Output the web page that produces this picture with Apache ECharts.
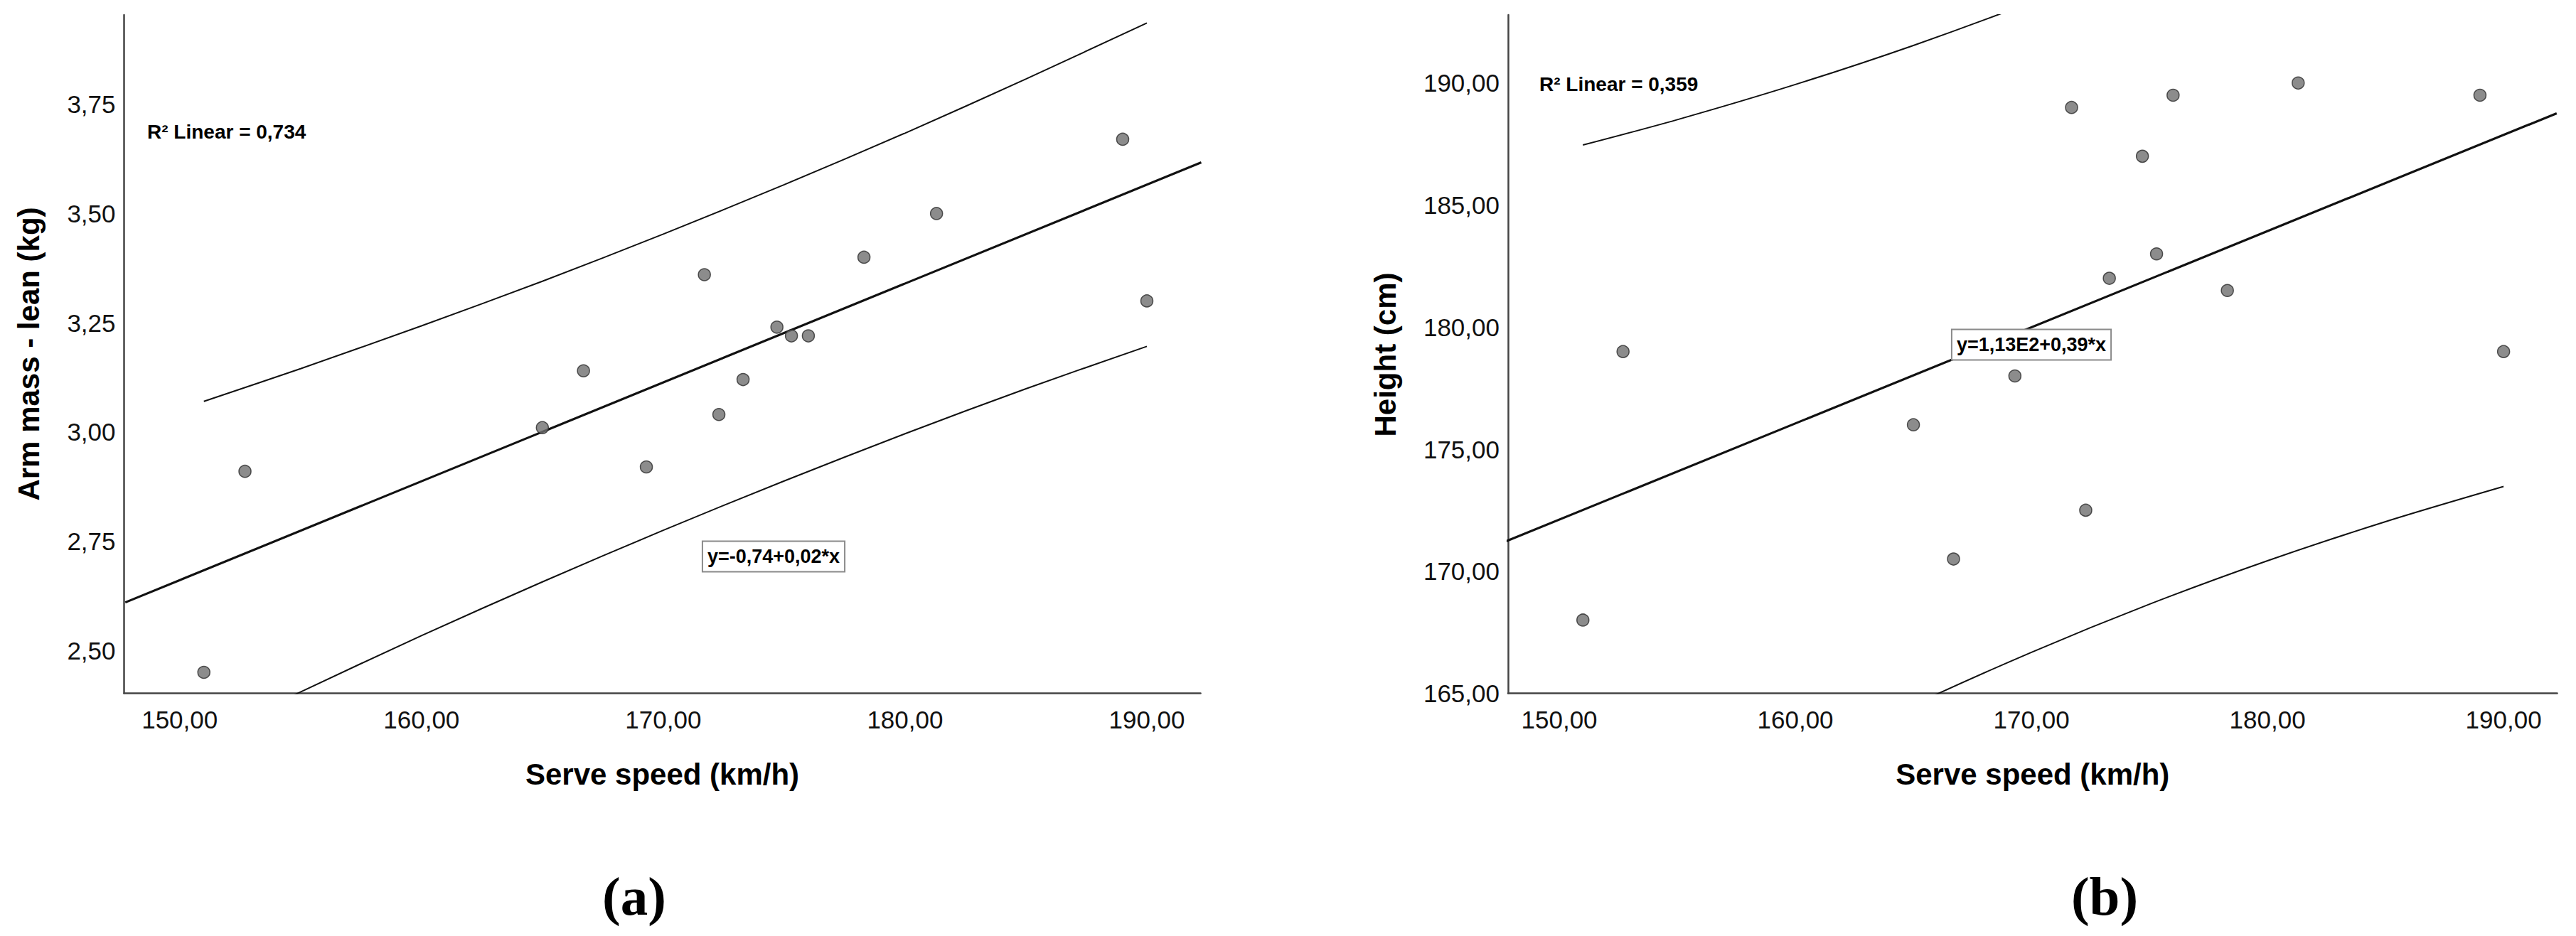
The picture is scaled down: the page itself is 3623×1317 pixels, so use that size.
<!DOCTYPE html>
<html>
<head>
<meta charset="utf-8">
<script src="https://cdn.jsdelivr.net/npm/echarts@6/dist/echarts.min.js"></script>
<style>
html,body{margin:0;padding:0;background:#fff;}
#chart{width:3623px;height:1317px;}
</style>
</head>
<body>
<div id="chart"></div>
<script>
// ---- data ----
const serveSpeed = [151.0, 152.7, 165.0, 166.7, 169.3, 171.7, 172.3, 173.3, 174.7, 175.3, 176.0, 178.3, 181.3, 189.0, 190.0];
const armMassLean = [2.45, 2.91, 3.01, 3.14, 2.92, 3.36, 3.04, 3.12, 3.24, 3.22, 3.22, 3.40, 3.50, 3.67, 3.30];
const heightCm = [168.0, 179.0, 176.0, 170.5, 178.0, 189.0, 172.5, 182.0, 187.0, 183.0, 189.5, 181.5, 190.0, 189.5, 179.0];

// fit lines (read at the axis ends)
const fitX = [147.75, 192.25];
const armFit = [2.61, 3.617];
const heightFit = [171.23, 188.76];

// prediction-interval curves
const intervalX = [151, 155, 160, 165, 170, 175, 180, 185, 190];
const armUpper = [3.070, 3.145, 3.243, 3.345, 3.453, 3.566, 3.684, 3.808, 3.936];
const armLower = [2.300, 2.405, 2.534, 2.657, 2.775, 2.888, 2.996, 3.099, 3.196];
const heightUpper = [187.46, 188.50, 189.94, 191.54, 193.32, 195.29, 197.45, 199.79, 202.29];
const heightLower = [157.56, 159.68, 162.18, 164.52, 166.68, 168.65, 170.43, 172.03, 173.47];

// tick labels
const xTicks = [150, 160, 170, 180, 190];
const armTicks = [2.50, 2.75, 3.00, 3.25, 3.50, 3.75];
const heightTicks = [165, 170, 175, 180, 185, 190];

const texts = {
  xTitle: 'Serve speed (km/h)',
  yTitleA: 'Arm mass - lean (kg)',
  yTitleB: 'Height (cm)',
  r2A: 'R² Linear = 0,734',
  r2B: 'R² Linear = 0,359',
  eqA: 'y=-0,74+0,02*x',
  eqB: 'y=1,13E2+0,39*x',
  labA: '(a)',
  labB: '(b)'
};

const FF = 'Liberation Sans, Arial, sans-serif';
const fmt = v => Number(v).toFixed(2).replace('.', ',');
const zip = (xs, ys) => xs.map((x, i) => [x, ys[i]]);

const axisLineStyle = {show: true, lineStyle: {color: '#444', width: 2.5}};

function xAxisCfg(gridIndex, min, max) {
  return {
    type: 'value', gridIndex, min, max,
    axisLine: axisLineStyle,
    axisTick: {show: false},
    splitLine: {show: false},
    axisLabel: {customValues: xTicks, formatter: fmt, fontFamily: FF, fontSize: 35, color: '#111', margin: 19, lineHeight: 35},
    name: texts.xTitle,
    nameLocation: 'middle',
    nameGap: 93,
    nameTextStyle: {fontFamily: FF, fontSize: 42, fontWeight: 'bold', color: '#000', lineHeight: 42}
  };
}
function yAxisCfg(gridIndex, min, max, ticks) {
  return {
    type: 'value', gridIndex, min, max,
    axisLine: axisLineStyle,
    axisTick: {show: false},
    splitLine: {show: false},
    axisLabel: {customValues: ticks, formatter: fmt, fontFamily: FF, fontSize: 35, color: '#111', margin: 12, padding: [13, 0, 0, 0]}
  };
}

const pointStyle = {color: '#6f6f6f', borderColor: '#2b2b2b', borderWidth: 1.5};
function scatter(xi, yi, ys) {
  return {type: 'scatter', xAxisIndex: xi, yAxisIndex: yi, data: zip(serveSpeed, ys),
    symbol: 'circle', symbolSize: 17, itemStyle: pointStyle, z: 5};
}
function line(xi, yi, xs, ys, width, smooth) {
  return {type: 'line', xAxisIndex: xi, yAxisIndex: yi, data: zip(xs, ys),
    showSymbol: false, smooth: smooth, clip: true,
    lineStyle: {color: '#111', width: width}, z: 3};
}

const chart = echarts.init(document.getElementById('chart'), null, {renderer: 'svg'});
chart.setOption({
  animation: false,
  backgroundColor: '#fff',
  grid: [
    {left: 174.5, top: 21, width: 1514, height: 954.5},
    {left: 2121, top: 21, width: 1475.5, height: 954.5}
  ],
  xAxis: [xAxisCfg(0, 147.7, 192.22), xAxisCfg(1, 147.83, 192.27)],
  yAxis: [yAxisCfg(0, 2.402, 3.9545, armTicks), yAxisCfg(1, 165, 192.79, heightTicks)],
  series: [
    line(0, 0, fitX, armFit, 3.2, false),
    line(0, 0, intervalX, armUpper, 2, 0.3),
    line(0, 0, intervalX, armLower, 2, 0.3),
    scatter(0, 0, armMassLean),
    line(1, 1, fitX, heightFit, 3.2, false),
    line(1, 1, intervalX, heightUpper, 2, 0.3),
    line(1, 1, intervalX, heightLower, 2, 0.3),
    scatter(1, 1, heightCm)
  ],
  graphic: [
    {type: 'text', x: 40, y: 498, rotation: Math.PI / 2,
      style: {text: texts.yTitleA, fontFamily: FF, fontSize: 42, fontWeight: 'bold', fill: '#000', align: 'center', verticalAlign: 'middle'}},
    {type: 'text', x: 1948, y: 499, rotation: Math.PI / 2,
      style: {text: texts.yTitleB, fontFamily: FF, fontSize: 42, fontWeight: 'bold', fill: '#000', align: 'center', verticalAlign: 'middle'}},
    {type: 'text', x: 207, y: 185,
      style: {text: texts.r2A, fontFamily: FF, fontSize: 28, fontWeight: 'bold', fill: '#000', align: 'left', verticalAlign: 'middle'}},
    {type: 'text', x: 2165, y: 118,
      style: {text: texts.r2B, fontFamily: FF, fontSize: 28, fontWeight: 'bold', fill: '#000', align: 'left', verticalAlign: 'middle'}},
    {type: 'text', x: 1088, y: 783, z: 10,
      style: {text: texts.eqA, fontFamily: FF, fontSize: 27, fontWeight: 'bold', fill: '#000', align: 'center', verticalAlign: 'middle',
        backgroundColor: '#fff', borderColor: '#8a8a8a', borderWidth: 2, padding: [7, 6, 7, 6]}},
    {type: 'text', x: 2857, y: 485, z: 10,
      style: {text: texts.eqB, fontFamily: FF, fontSize: 27, fontWeight: 'bold', fill: '#000', align: 'center', verticalAlign: 'middle',
        backgroundColor: '#fff', borderColor: '#8a8a8a', borderWidth: 2, padding: [7, 6, 7, 6]}},
    {type: 'text', x: 892, y: 1261,
      style: {text: texts.labA, fontFamily: 'Liberation Serif, Times New Roman, serif', fontSize: 77, fontWeight: 'bold', fill: '#000', align: 'center', verticalAlign: 'middle'}},
    {type: 'text', x: 2960, y: 1261,
      style: {text: texts.labB, fontFamily: 'Liberation Serif, Times New Roman, serif', fontSize: 77, fontWeight: 'bold', fill: '#000', align: 'center', verticalAlign: 'middle'}}
  ]
});
</script>
</body>
</html>
